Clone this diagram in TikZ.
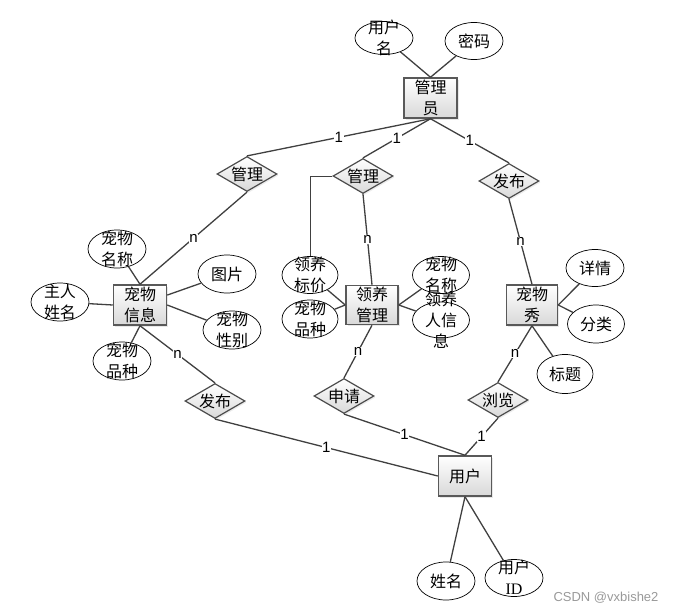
\documentclass[tikz,border=0pt]{standalone}
\usepackage{fontspec}
\setmainfont{Noto Sans CJK SC}
\newfontfamily\idfont{Liberation Serif}
\newfontfamily\numfont{Liberation Sans}
\usetikzlibrary{shapes.geometric,shadows}
\newcommand{\ml}[1]{\raisebox{-0.39em}[0pt][0pt]{\begin{tabular}{@{}c@{}}#1\end{tabular}}}
\tikzset{every node/.style={font=\fontsize{16}{21}\selectfont},
  lnk/.style={draw=black!75,line width=1.3pt},
  ent/.style={rectangle,draw=black!65,line width=1.5pt,top color=white,bottom color=black!15,
    minimum width=53pt,minimum height=40pt,inner sep=1pt,align=center,
    drop shadow={opacity=0.18,shadow xshift=1.5pt,shadow yshift=-1.5pt}},
  rel/.style={diamond,aspect=1.7,draw=black!70,line width=1.2pt,top color=white,bottom color=black!15,
    minimum width=60pt,minimum height=35pt,inner sep=0pt,
    drop shadow={opacity=0.15,shadow xshift=1.5pt,shadow yshift=-1.5pt}},
  attr/.style={ellipse,draw=black,line width=0.7pt,fill=white,minimum width=58pt,minimum height=38pt,inner sep=0pt},
  card/.style={fill=white,inner sep=0.6pt,font=\numfont\fontsize{15}{15}\selectfont}}

\begin{document}
\begin{tikzpicture}[x=1pt,y=-1pt]
   \useasboundingbox (0,0) rectangle (673,613);

   \node[ent]  (admin) at (430.5, 98) {管理\\员};
   \node[attr,minimum height=33pt] (yhm) at (384, 38) {\ml{用户\\名}};
   \node[attr,minimum height=37pt] (mm)  at (474, 41) {密码};

   \node[rel]  (gl1) at (247,174) {管理};
   \node[rel]  (gl2) at (363,176) {管理};
   \node[rel]  (fb1) at (509,181) {发布};

   \node[ent]  (cwxx) at (140,305) {宠物\\信息};
   \node[attr] (cwmc) at (117,249) {\ml{宠物\\名称}};
   \node[attr] (zrxm) at ( 60,302) {\ml{主人\\姓名}};
   \node[attr] (tp)   at (227,274) {图片};
   \node[attr] (cwxb) at (232,330) {\ml{宠物\\性别}};
   \node[attr] (cwpz) at (122,361) {\ml{宠物\\品种}};
   \node[rel]  (fb2)  at (215,401) {发布};

   \node[ent,minimum width=52pt,minimum height=39pt] (lygl) at (372,305) {领养\\管理};
   \node[attr,minimum width=56pt,minimum height=37pt] (lybj) at (310,275) {\ml{领养\\标价}};
   \node[attr,minimum width=56pt] (lypz) at (310,319) {\ml{宠物\\品种}};
   \node[attr,minimum width=57pt,minimum height=37pt] (lymc) at (441,275) {\ml{宠物\\名称}};
   \node[attr,minimum width=57pt,minimum height=36pt] (lyr)  at (441,320) {\ml{领养\\人信\\息}};
   \node[rel]  (sq)   at (344,396) {申请};

   \node[ent,minimum width=51pt] (cwx) at (532,305) {宠物\\秀};
   \node[attr,minimum height=37pt] (xq) at (595,268) {详情};
   \node[attr,minimum width=57pt] (fl) at (596,324) {分类};
   \node[attr,minimum width=56pt,minimum height=39pt] (bt) at (565,374) {标题};
   \node[rel]  (ll)   at (498,400) {浏览};

   \node[ent]  (yh)   at (465,476) {用户};
   \node[attr] (xm)   at (446,581) {姓名};
   \node[attr,minimum height=37pt] (yhid) at (514,578) {\ml{用户\\{\idfont ID}}};

   \draw[lnk] (yhm) -- (admin.north);
   \draw[lnk] (mm) -- (admin.north);
   \draw[lnk] (admin.south) -- node[card]{1} (gl1.north);
   \draw[lnk] (admin.south) -- node[card]{1} (gl2.north);
   \draw[lnk] (admin.south) -- node[card]{1} (fb1.north);

   \draw[lnk] (gl1.south) -- node[card]{n} (cwxx.north);
   \draw[lnk] (cwxx.north) -- (cwmc);
   \draw[lnk] (cwxx.west) -- (zrxm);
   \draw[lnk] (cwxx.20) -- (tp);
   \draw[lnk] (cwxx.east) -- (cwxb);
   \draw[lnk] (cwxx.south) -- (cwpz);
   \draw[lnk] (cwxx.south) -- node[card]{n} (fb2.north);

   \draw[lnk,line width=0.8pt] (gl2.west) -| (lybj);
   \draw[lnk] (gl2.south) -- node[card]{n} (lygl.north);
   \draw[lnk] (lygl.west) -- (lybj);
   \draw[lnk] (lygl.west) -- (lypz);
   \draw[lnk] (lygl.east) -- (lymc);
   \draw[lnk] (lygl.east) -- (lyr);
   \draw[lnk] (lygl.south) -- node[card]{n} (sq.north);

   \draw[lnk] (fb1.south) -- node[card]{n} (cwx.north);
   \draw[lnk] (cwx.east) -- (xq);
   \draw[lnk] (cwx.east) -- (fl);
   \draw[lnk] (cwx.south) -- (bt);
   \draw[lnk] (cwx.south) -- node[card]{n} (ll.north);

   \draw[lnk] (fb2.south) -- node[card]{1} (yh.west);
   \draw[lnk] (sq.south) -- node[card]{1} (yh.north);
   \draw[lnk] (ll.south) -- node[card]{1} (yh.north);
   \draw[lnk] (yh.south) -- (xm);
   \draw[lnk] (yh.south) -- (yhid);

   \node[font=\numfont\fontsize{13}{13}\selectfont,text=black!40] (wm) at (606,598) {CSDN @vxbishe2};
  \end{tikzpicture}
\end{document}
